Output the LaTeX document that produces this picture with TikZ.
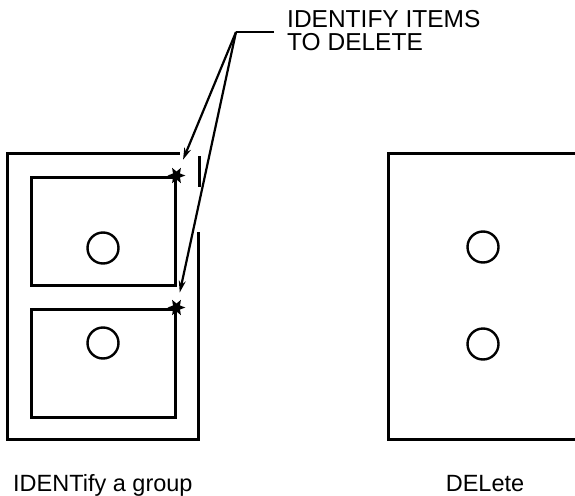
\documentclass[tikz,border=0pt]{standalone}
\usepackage{fontspec}
\setsansfont{Liberation Sans}
\usetikzlibrary{arrows.meta}
\usetikzlibrary{shapes.geometric}
\tikzset{
  frame/.style = {line width=3pt, line cap=rect},
  panel/.style = {draw, line width=3pt, inner sep=0pt,
    minimum width=144pt, minimum height=108pt},
  hole/.style = {circle, draw, line width=2.4pt, inner sep=0pt,
    minimum size=31pt},
  pick/.style = {star, star points=6, star point ratio=0.45, fill=black,
    inner sep=0pt, minimum size=8pt},% marque de selection
  leader/.style = {line width=2.2pt},
  caption/.style = {inner sep=0pt, font=\sffamily\fontsize{23.5}{23}\selectfont},
  note/.style = {inner sep=0pt, align=left,
    font=\sffamily\fontsize{24.5}{23}\selectfont},
}

\begin{document}
\begin{tikzpicture}[x=1pt,y=-1pt,->,>={Stealth[length=12pt,width=7pt]}]
\useasboundingbox (0,0) rectangle (575,495);

% groupe de gauche
\draw[frame,-] (178,153) -- (7,153) -- (7,439) -- (198,439) -- (198,233);
\draw[frame,-] (199,157) -- (199,185);
\node [panel] (top) at (103,231) {};
\node [panel] (bot) at (103,363) {};
\node [hole] (topHole) at (103,248) {};
\node [hole] (botHole) at (103,343) {};
\node [pick] (topPick) at (top.north east) {};
\node [pick] (botPick) at (bot.north east) {};

% panneau de droite
\draw[frame,-] (578,153) -- (388,153) -- (388,439) -- (578,439);
\node [hole] (delTop) at (483,247) {};
\node [hole] (delBot) at (483,344) {};

% renvoi
\node [note, anchor=north west] (note) at (287,10) {IDENTIFY ITEMS\\TO DELETE};
\coordinate (lead) at (236,32);
\coordinate (tail) at (274,32);
\draw[leader,-] (tail) -- (lead);
\draw[leader, shorten >=10pt] (lead) -- (topPick);
\draw[leader, shorten >=10pt] (lead) -- (botPick);

\node [caption, anchor=base west] (groupCap) at (13,491) {IDENTify a group};
\node [caption, anchor=base] (delCap) at (485,491) {DELete};
\end{tikzpicture}
\end{document}
